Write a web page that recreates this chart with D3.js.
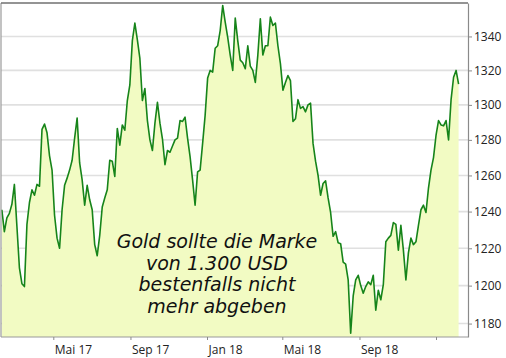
<!DOCTYPE html>
<html><head><meta charset="utf-8">
<script src="https://cdn.jsdelivr.net/npm/d3@7"></script>
<style>html,body{margin:0;padding:0;background:#fff;} svg{display:block}</style>
</head><body>
<svg id="c" width="506" height="358"></svg>
<script>
// Gold price (USD/oz), sampled every 4 days starting 2017-02-08
const startDate = "2017-02-08";
const stepDays = 4;
const prices = [
1241,1229,1236.5,1239,1244,1255,1232,1209.5,1201,1199.5,
1233,1245,1252,1249,1255,1254,1286,1289,1284,1271,
1263,1238,1225.5,1220,1241,1254.5,1258.5,1263,1268.5,1281,
1292.5,1267,1257.5,1243.5,1254.5,1246.5,1241,1222,1216,1227,
1242.5,1247.5,1252,1268.5,1268,1259.5,1286.5,1277,1288.5,1285.5,
1302.5,1311.5,1337.5,1348,1338,1327,1302.5,1309.5,1291,1280,
1274,1289.5,1301.5,1289.5,1280.5,1266,1274,1273,1276.5,1280,
1281,1291,1290.5,1293,1281,1270.5,1257.5,1243.5,1262,1263,
1278,1294,1315.5,1320,1319,1333,1334.5,1343.5,1358.5,1348.5,
1339.5,1329,1320,1351,1337.5,1326,1324.5,1321,1334.5,1322.5,
1320,1313,1329,1350.5,1329,1334.5,1334.5,1351.5,1346.5,1348,
1334.5,1324,1308.5,1313,1317,1314,1290.5,1292,1303,1298,
1299,1296,1300,1301,1278,1268,1260,1249,1255.5,1257,
1247.5,1239.5,1226.5,1229,1223,1222.5,1212.5,1211.5,1203,1175,
1194.5,1203,1205.5,1200,1196,1199.5,1202,1200.5,1205.5,1187,
1197.5,1192.5,1200.5,1223.5,1225.5,1227,1234,1233,1219,1232.5,
1219,1203,1217.5,1225.5,1222,1223.5,1232.5,1241,1243.5,1239.5,
1253,1263,1270,1282.5,1291,1288.5,1288,1291,1280,1303,
1316,1320,1312
];
const yTicks = [1180,1200,1220,1240,1260,1280,1300,1320,1340];
const xTickDates = ["2017-05-01","2017-09-01","2018-01-01","2018-05-01","2018-09-01","2019-01-01"];
const xTickLabels = ["Mai 17","Sep 17","Jan 18","Mai 18","Sep 18",""];
const noteLines = ["Gold sollte die Marke","von 1.300 USD","bestenfalls nicht","mehr abgeben"];

const parse = d3.timeParse("%Y-%m-%d");
const t0 = parse(startDate);
const data = prices.map((v, i) => ({date: d3.timeDay.offset(t0, i * stepDays), value: v}));

const plot = {left: 1, right: 468, top: 3, bottom: 337};
const svg = d3.select("#c");

const x = d3.scaleTime()
  .domain([data[0].date, data[data.length - 1].date])
  .range([1.85, 458.6]);
const y = d3.scaleLog().domain([1173, 1360]).range([plot.bottom, plot.top]);

// grid
svg.append("g").selectAll("line").data(yTicks).join("line")
  .attr("x1", plot.left).attr("x2", plot.right)
  .attr("y1", d => y(d)).attr("y2", d => y(d))
  .attr("stroke", "#e0e0e0").attr("stroke-width", 1.6);

// area + line
svg.append("path").datum(data)
  .attr("fill", "#f2fbc3")
  .attr("d", d3.area().x(d => x(d.date)).y0(plot.bottom).y1(d => y(d.value)));
svg.append("path").datum(data)
  .attr("fill", "none").attr("stroke", "#16841a").attr("stroke-width", 1.6)
  .attr("stroke-linejoin", "round")
  .attr("d", d3.line().x(d => x(d.date)).y(d => y(d.value)));

// frame
const frame = svg.append("g").attr("stroke-width", 1.2).attr("fill", "none");
frame.append("line").attr("x1", plot.left).attr("x2", plot.left).attr("y1", plot.top).attr("y2", plot.bottom).attr("stroke", "#9a9a9a");
frame.append("line").attr("x1", plot.left).attr("x2", plot.right).attr("y1", plot.top).attr("y2", plot.top).attr("stroke", "#707070").attr("stroke-width", 1.6);
frame.append("line").attr("x1", plot.left).attr("x2", plot.right).attr("y1", plot.bottom).attr("y2", plot.bottom).attr("stroke", "#9a9a9a");

// right axis
const minor = d3.range(1175, 1361, 5).filter(v => v % 20 !== 0);
const ax = svg.append("g").attr("transform", `translate(${plot.right},0)`);
ax.call(d3.axisRight(y).tickValues(minor).tickFormat("").tickSize(2).tickSizeOuter(0));
ax.call(d3.axisRight(y).tickValues(yTicks).tickFormat(d3.format("d")).tickSize(4).tickSizeOuter(0).tickPadding(2));
ax.selectAll("path.domain").attr("stroke", "#8a8a8a").attr("stroke-width", 1.2);
ax.selectAll(".tick line").attr("stroke", "#8a8a8a");
ax.selectAll("text").attr("font-family", "'Open Sans', sans-serif").attr("font-size", 12).attr("fill", "#222");

// bottom axis
const bx = svg.append("g").attr("transform", `translate(0,${plot.bottom})`);
bx.call(d3.axisBottom(x).tickValues(xTickDates.map(parse)).tickFormat((d, i) => xTickLabels[i]).tickSize(3).tickSizeOuter(0));
bx.select("path.domain").remove();
bx.selectAll(".tick line").attr("stroke", "#8a8a8a");
bx.selectAll("text").attr("font-family", "'Open Sans', sans-serif").attr("font-size", 12).attr("fill", "#222")
  .attr("text-anchor", "start").attr("x", 1).attr("dy", "0.95em");

// annotation
svg.append("text")
  .attr("font-family", "'DejaVu Sans', sans-serif").attr("font-style", "italic")
  .attr("font-size", 19).attr("fill", "#111").attr("text-anchor", "middle")
  .selectAll("tspan").data(noteLines).join("tspan")
  .attr("x", 217).attr("y", (d, i) => 248 + i * 21.5).text(d => d);
</script>
</body></html>
